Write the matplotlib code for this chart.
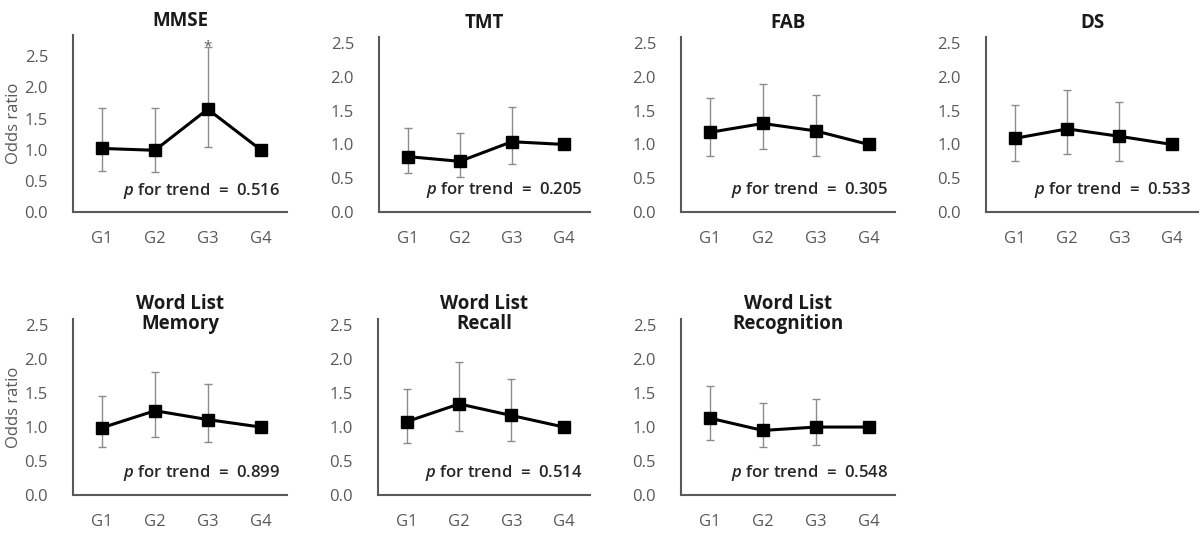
import numpy as np
import matplotlib.pyplot as plt

plt.rcParams['font.family'] = ['Open Sans', 'DejaVu Sans']
plt.rcParams['mathtext.fontset'] = 'custom'
plt.rcParams['mathtext.it'] = 'Open Sans:italic:semibold'
plt.rcParams['mathtext.rm'] = 'Open Sans'

groups = ['G1', 'G2', 'G3', 'G4']

titles = ['MMSE', 'TMT', 'FAB', 'DS',
          'Word List\nMemory', 'Word List\nRecall', 'Word List\nRecognition']
p_trend = ['0.516', '0.205', '0.305', '0.533', '0.899', '0.514', '0.548']

# odds ratio, lower and upper CI (G4 = reference, no CI)
or_mmse = [1.02, 0.99, 1.65, 1.0]
lo_mmse = [0.66, 0.64, 1.05, 1.0]
hi_mmse = [1.67, 1.67, 2.64, 1.0]

or_tmt = [0.82, 0.75, 1.04, 1.0]
lo_tmt = [0.57, 0.52, 0.71, 1.0]
hi_tmt = [1.25, 1.17, 1.55, 1.0]

or_fab = [1.18, 1.31, 1.20, 1.0]
lo_fab = [0.83, 0.93, 0.83, 1.0]
hi_fab = [1.69, 1.90, 1.73, 1.0]

or_ds = [1.09, 1.23, 1.12, 1.0]
lo_ds = [0.76, 0.86, 0.76, 1.0]
hi_ds = [1.59, 1.80, 1.63, 1.0]

or_mem = [0.99, 1.24, 1.11, 1.0]
lo_mem = [0.71, 0.85, 0.78, 1.0]
hi_mem = [1.46, 1.81, 1.64, 1.0]

or_rec = [1.08, 1.34, 1.17, 1.0]
lo_rec = [0.76, 0.94, 0.80, 1.0]
hi_rec = [1.56, 1.95, 1.71, 1.0]

or_rcg = [1.13, 0.95, 1.0, 1.0]
lo_rcg = [0.81, 0.70, 0.73, 1.0]
hi_rcg = [1.60, 1.35, 1.42, 1.0]

panels = [(or_mmse, lo_mmse, hi_mmse), (or_tmt, lo_tmt, hi_tmt),
          (or_fab, lo_fab, hi_fab), (or_ds, lo_ds, hi_ds),
          (or_mem, lo_mem, hi_mem), (or_rec, lo_rec, hi_rec),
          (or_rcg, lo_rcg, hi_rcg)]

W, H = 1200, 548
boxes = [(73, 35, 287, 212), (379, 37, 590, 212), (681, 37, 895, 212), (986, 37, 1198, 212),
         (73, 319, 287, 495), (378, 319, 590, 495), (681, 319, 895, 495)]

gray = '#595959'
fig = plt.figure(figsize=(12, 5.48), dpi=100)

for i, (vals, lo, hi) in enumerate(panels):
    x0, y0, x1, y1 = boxes[i]
    ax = fig.add_axes([x0 / W, 1 - y1 / H, (x1 - x0) / W, (y1 - y0) / H])
    x = np.arange(len(groups))
    vals = np.array(vals)
    yerr = [vals - np.array(lo), np.array(hi) - vals]
    ax.errorbar(x[:3], vals[:3], yerr=[yerr[0][:3], yerr[1][:3]], fmt='none',
                ecolor='#8c8c8c', elinewidth=1, capsize=3, capthick=1, zorder=2)
    ax.plot(x, vals, color='black', lw=2.2, marker='s', markersize=9, zorder=3)
    ax.set_xlim(-0.55, 3.5)
    ax.set_ylim(0, 2.84 if i == 0 else 2.59)
    ax.set_yticks(np.arange(0, 2.6, 0.5))
    ax.set_yticklabels(['%.1f' % v for v in np.arange(0, 2.6, 0.5)])
    ax.set_xticks(x)
    ax.set_xticklabels(groups)
    ax.tick_params(axis='both', length=0, colors=gray, labelsize=12)
    ax.tick_params(axis='x', pad=14)
    ax.tick_params(axis='y', pad=18)
    for s in ['top', 'right']:
        ax.spines[s].set_visible(False)
    for s in ['left', 'bottom']:
        ax.spines[s].set_color(gray)
        ax.spines[s].set_linewidth(1.5)
    ax.set_facecolor('none')

    if '\n' in titles[i]:
        ax.text(0.5, 1.14, titles[i], transform=ax.transAxes, ha='center', va='top',
                fontsize=13.5, fontweight='bold', color='#1a1a1a', linespacing=0.95)
    else:
        ax.text(0.5, 1.02, titles[i], transform=ax.transAxes, ha='center', va='bottom',
                fontsize=13.5, fontweight='bold', color='#1a1a1a')

    ax.text(3.36, 0.33, r'$\mathit{p}$ for trend  =  ' + p_trend[i], ha='right', va='center',
            fontsize=12, fontweight='semibold', color='#262626')

    if i == 0:
        ax.text(2, hi[2] - 0.12, '*', ha='center', va='bottom', fontsize=11, color=gray)
    if i in (0, 4):
        ax.set_ylabel('Odds ratio', color=gray, fontsize=12, labelpad=2)

fig.savefig('out.png', dpi=100, facecolor='white')
